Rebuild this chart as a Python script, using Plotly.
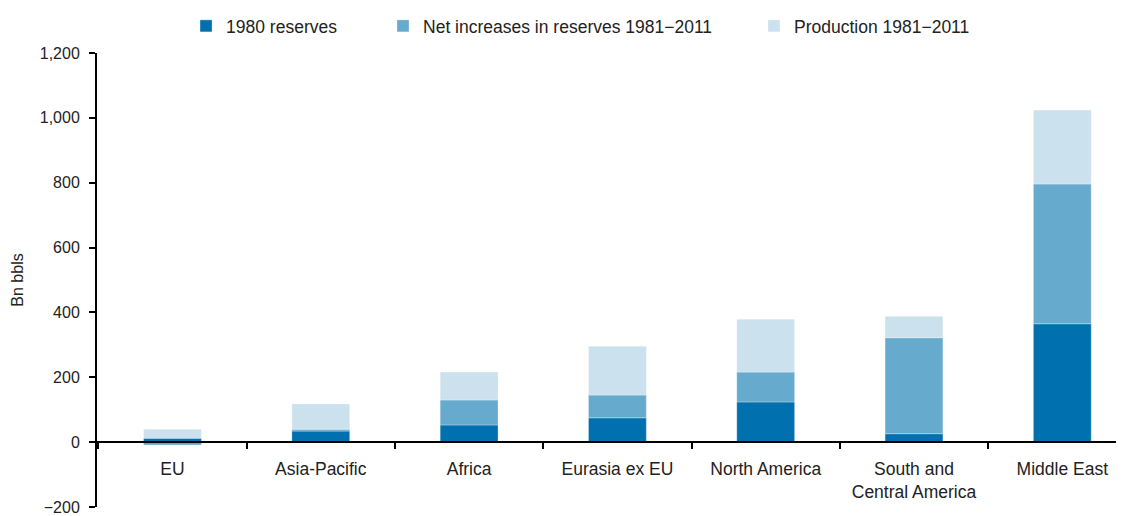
import plotly.graph_objects as go

categories = ["EU", "Asia-Pacific", "Africa", "Eurasia ex EU", "North America",
              "South and<br>Central America", "Middle East"]
reserves_1980 = [12, 34, 53, 75, 124, 26, 365]
net_increases = [-9, 6, 77, 70, 92, 296, 431]
production = [28, 78, 86, 151, 163, 66, 228]

series = [
    ("1980 reserves", reserves_1980, "#0071ae", "legend", 0.0867),
    ("Net increases in reserves 1981\u22122011", net_increases, "#66aacd", "legend2", 0.2785),
    ("Production 1981\u22122011", production, "#cce1ee", "legend3", 0.6397),
]

font_family = "Liberation Sans, Arial, sans-serif"
text_color = "#222222"

fig = go.Figure()
legend_layouts = {}
for name, vals, color, leg, lx in series:
    fig.add_trace(go.Bar(
        x=categories, y=vals, name=name, width=0.39, legend=leg,
        marker=dict(color=color, line=dict(color="rgba(255,255,255,0.6)", width=0.5)),
    ))
    legend_layouts[leg] = dict(orientation="h", x=lx, xanchor="left", y=1.0595,
                               yanchor="middle", bgcolor="rgba(0,0,0,0)",
                               font=dict(size=17.5, color=text_color, family=font_family))

fig.update_layout(
    width=1116, height=508,
    barmode="relative",
    plot_bgcolor="white", paper_bgcolor="white",
    margin=dict(l=89, r=0, t=45, b=9),
    font=dict(family=font_family, size=16, color=text_color),
    showlegend=True,
    xaxis=dict(
        type="category", range=[-0.509, 6.416],
        anchor="free", position=200 / 1400,
        showline=True, linecolor="black", linewidth=2,
        ticks="outside", ticklen=6, tickwidth=2, tickcolor="black",
        tickson="boundaries", showgrid=False, ticklabelstandoff=11,
        tickfont=dict(size=17.5, color=text_color),
    ),
    yaxis=dict(
        range=[-200, 1200], dtick=200, tickformat=",",
        showline=True, linecolor="black", linewidth=2,
        ticks="outside", ticklen=6, tickwidth=2, tickcolor="black",
        showgrid=False, zeroline=False, ticklabelstandoff=6,
        tickfont=dict(size=16, color=text_color),
        title=dict(text="Bn bbls", font=dict(size=16, color=text_color), standoff=12),
    ),
    **legend_layouts,
)

fig.write_html("out.html")
